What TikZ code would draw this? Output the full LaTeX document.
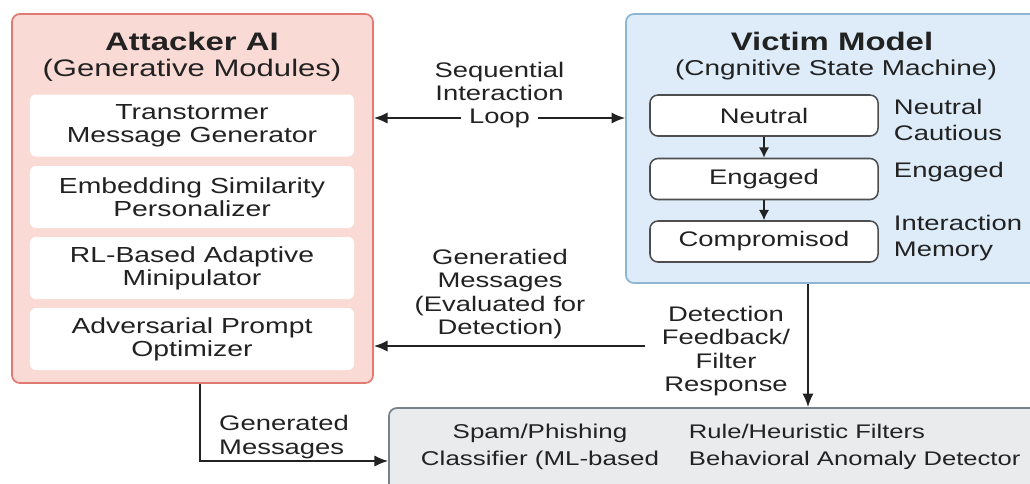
\documentclass[tikz,border=0pt]{standalone}
\usepackage{fontspec}
\setmainfont[FakeStretch=1.3]{Liberation Sans}
\usepackage{xcolor}
\usepackage{tikz}
\usetikzlibrary{positioning, arrows.meta}

\definecolor{atkfill}{RGB}{250,218,212}
\definecolor{atkline}{RGB}{226,122,116}
\definecolor{vicfill}{RGB}{221,236,248}
\definecolor{vicline}{RGB}{141,182,212}
\definecolor{detfill}{RGB}{233,235,237}
\definecolor{detline}{RGB}{122,130,137}
\definecolor{ink}{RGB}{34,34,34}

\begin{document}
\begin{tikzpicture}[x=0.025cm, y=-0.025cm,
  >={Latex[length=3.4mm, width=2.8mm]},
  txt/.style={text=ink, font=\fontsize{15}{16.8}\selectfont, align=center},
  genbox/.style={txt, fill=white, rounded corners=0.15cm, minimum width=8.1cm, minimum height=1.55cm, font=\fontsize{15.5}{16.4}\selectfont},
  statebox/.style={txt, draw=ink!80, line width=1.1pt, fill=white, rounded corners=0.2cm, minimum width=5.7cm, minimum height=1.025cm},
  heading/.style={text=ink, font=\fontsize{18}{20}\selectfont\bfseries},
  arr/.style={->, draw=ink, line width=1.2pt},
  smallarr/.style={-{Latex[length=2.6mm, width=2.6mm]}, draw=ink, line width=1.2pt}]
\clip (0,0) rectangle (1030,483);

\node [draw=atkline, line width=1.2pt, fill=atkfill, rounded corners=0.2cm, minimum width=9.025cm, minimum height=9.225cm] (attacker) at (192.5,198.5) {};
\node [heading] (atktitle) at (192,41) {Attacker AI};
\node [txt, font=\fontsize{17}{18}\selectfont] (atksub) at (192,70) {(Generative Modules)};
\node [genbox] (gen1) at (192,125.5) {Transtormer\\Message Generator};
\node [genbox] (gen2) at (192,197) {Embedding Similarity\\Personalizer};
\node [genbox] (gen3) at (192,268) {RL-Based Adaptive\\Minipulator};
\node [genbox] (gen4) at (192,339) {Adversarial Prompt\\Optimizer};

\node [draw=vicline, line width=1.2pt, fill=vicfill, rounded corners=0.2cm, minimum width=10.475cm, minimum height=6.725cm] (victim) at (835.5,148.5) {};
\node [heading] (victitle) at (832,41) {Victim Model};
\node [txt, font=\fontsize{15.3}{17}\selectfont] (vicsub) at (836,70) {(Cngnitive State Machine)};
\node [statebox] (neutral) at (764,115.5) {Neutral};
\node [statebox] (engaged) at (764,179) {Engaged};
\node [statebox] (compromised) at (764,241.5) {Compromisod};
\node [txt, align=left, anchor=west, font=\fontsize{15}{18.4}\selectfont] (neutralnote) at (889,120) {Neutral\\Cautious};
\node [txt, align=left, anchor=west] (engagednote) at (889,172) {Engaged};
\node [txt, align=left, anchor=west, font=\fontsize{15}{18}\selectfont] (memorynote) at (889,238) {Interaction\\Memory};
\draw [smallarr] (neutral) -- (engaged);
\draw [smallarr] (engaged) -- (compromised);

\node [draw=detline, line width=1.2pt, fill=detfill, rounded corners=0.2cm, minimum width=16.4cm, minimum height=2.3cm] (detector) at (717,454) {};
\node [txt, font=\fontsize{14.2}{19.2}\selectfont] (classifier) at (540,447) {Spam/Phishing\\Classifier (ML-based};
\node [txt, align=left, anchor=west, font=\fontsize{14}{19.2}\selectfont] (filters) at (684,447) {Rule/Heuristic Filters\\Behavioral Anomaly Detector};

\draw [arr, <->] (attacker.east |- 0,118) -- node [txt, fill=white, inner xsep=6pt] (loop) {Loop} (victim.west |- 0,118);
\node [txt, above=-2pt of loop] (seqlabel) {Sequential\\Interaction};

\node [txt] (evallabel) at (500,294) {Generatied\\Messages\\(Evaluated for\\Detection)};
\node [txt] (feedback) at (726,351) {Detection\\Feedback/\\Filter\\Response};
\coordinate (fbout) at (645,346);
\draw [arr] (fbout) -- (fbout -| attacker.east);

\draw [arr] (victim.south -| 808,0) -- (detector.north -| 808,0);

\coordinate (genout) at (200,461);
\draw [arr] (attacker.south -| genout) |- (genout -| detector.west);
\node [txt, align=left] (genlabel) at (284,437) {Generated\\Messages};
\end{tikzpicture}
\end{document}
